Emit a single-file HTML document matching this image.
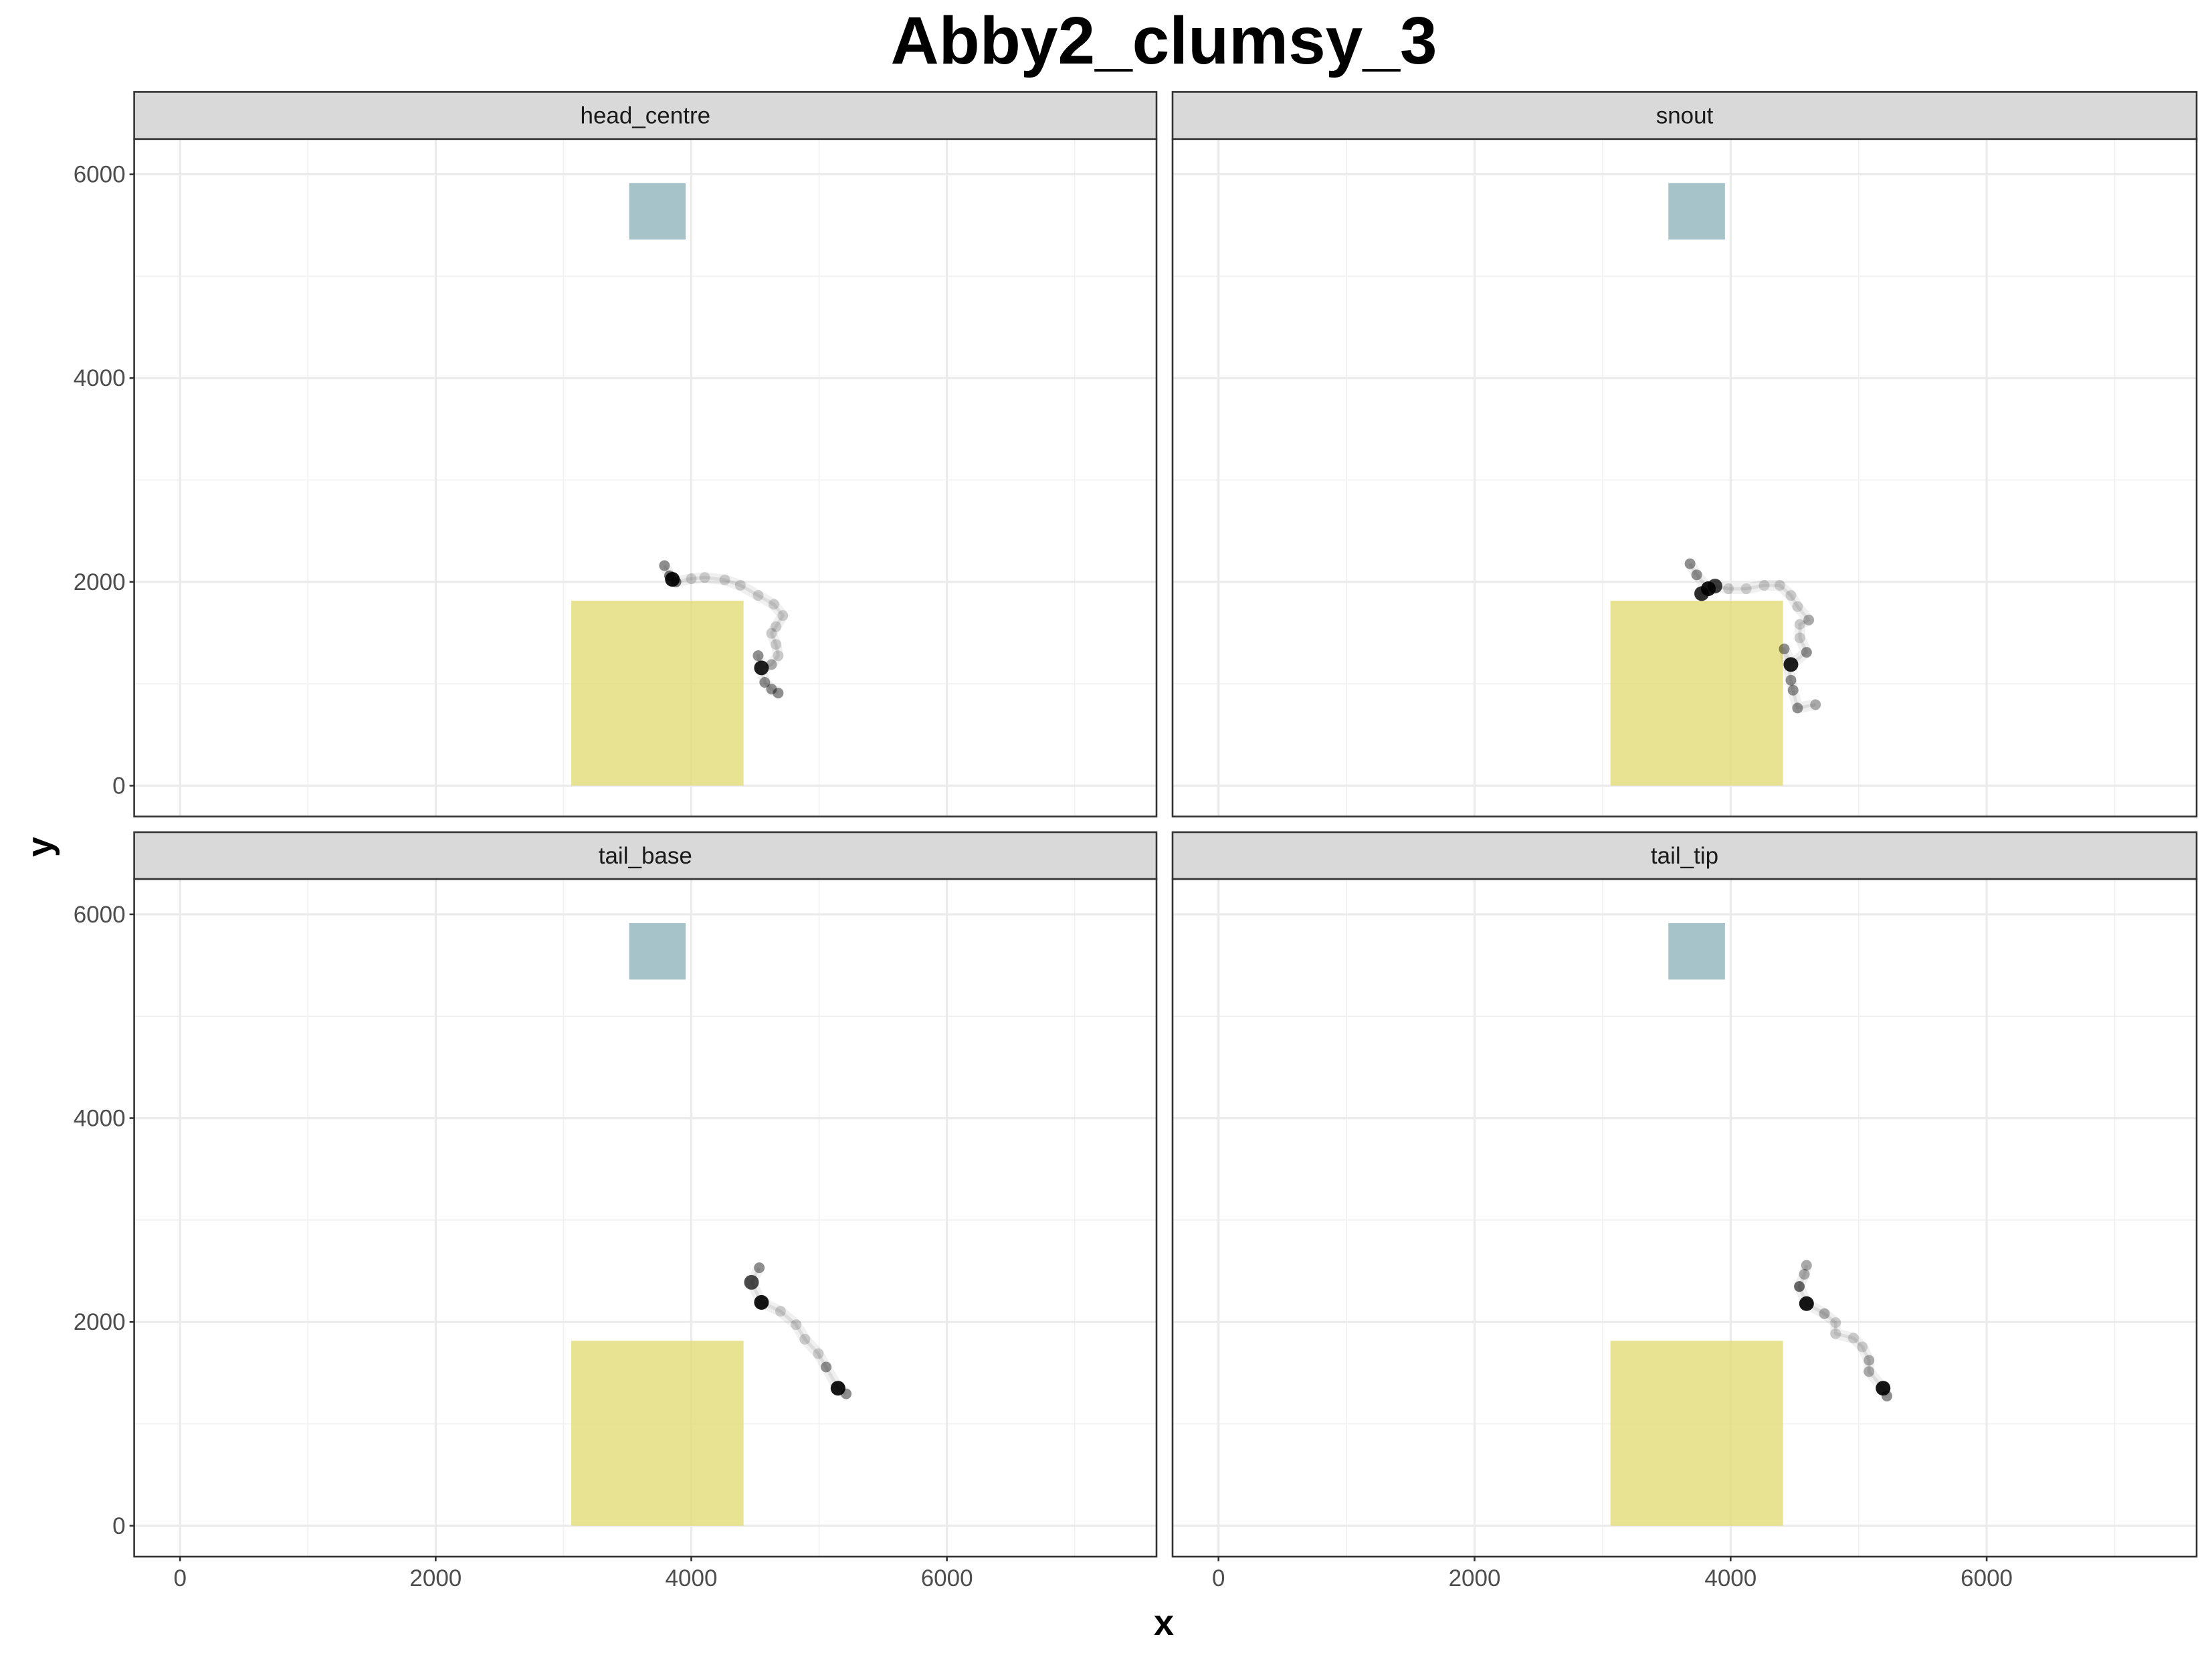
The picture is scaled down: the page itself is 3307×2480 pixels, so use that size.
<!DOCTYPE html>
<html><head><meta charset="utf-8"><style>
html,body{margin:0;padding:0;background:#fff;}
svg{display:block;font-family:"Liberation Sans",Arial,sans-serif;}
</style></head><body>
<svg id="chart" width="3307" height="2480" viewBox="0 0 3307 2480" xmlns="http://www.w3.org/2000/svg">
<rect width="3307" height="2480" fill="#fff"/>
<text x="1740" y="95" text-anchor="middle" font-size="100" font-weight="bold" fill="#000">Abby2_clumsy_3</text>
<text x="1740" y="2444" text-anchor="middle" font-size="54" font-weight="bold" fill="#000">x</text>
<text x="0" y="0" transform="translate(78,1266) rotate(-90)" text-anchor="middle" font-size="54" font-weight="bold" fill="#000">y</text>
<g id="panels"></g>
</svg>
<script>
const panelNames = ["head_centre","snout","tail_base","tail_tip"];
const xTicks = [0,2000,4000,6000];
const yTicks = [0,2000,4000,6000];
const xMinor = [1000,3000,5000,7000];
const yMinor = [1000,3000,5000];
const xDomain = [-359, 7640];
const yDomain = [-303, 6347];
// zone rectangles [x0,x1,y0,y1]
const yellowZone = [3061, 4409, 0, 1815];
const blueZone = [3514, 3956, 5360, 5914];
// trajectories
const headX = [3790,3852,3830,3880,4000,4105,4262,4384,4523,4646,4716,4663,4628,4663,4680,4628,4549,4523,4575,4628,4680];
const headY = [2160,2025,2060,2000,2031,2043,2020,1966,1867,1780,1670,1561,1495,1386,1276,1189,1156,1276,1014,948,909];
const headN = [3,14,4,4,1,1,1,1,1,1,1,1,1,1,1,2,12,3,3,3,3];
const snoutX = [3683,3735,3826,3774,3878,3983,4122,4262,4384,4471,4523,4610,4541,4541,4593,4471,4419,4471,4488,4523,4663];
const snoutY = [2178,2069,1933,1885,1959,1933,1933,1966,1966,1867,1758,1626,1583,1451,1309,1189,1342,1035,937,762,795];
const snoutN = [3,3,14,10,8,1,1,1,1,1,1,2,1,1,3,12,3,3,3,3,2];
const baseX = [4532,4471,4549,4698,4820,4889,4994,5055,5148,5212];
const baseY = [2532,2389,2192,2105,1974,1831,1689,1558,1350,1295];
const baseN = [3,7,14,1,1,1,1,3,14,3];
const tipX = [4593,4576,4537,4593,4733,4820,4820,4959,5029,5081,5081,5191,5221];
const tipY = [2556,2468,2348,2180,2082,1994,1885,1842,1755,1624,1514,1350,1273];
const tipN = [2,2,5,14,2,1,1,1,1,2,2,14,3];
const trajX = [headX, snoutX, baseX, tipX];
const trajY = [headY, snoutY, baseY, tipY];
const trajN = [headN, snoutN, baseN, tipN];

const NS = "http://www.w3.org/2000/svg";
const panelsG = document.getElementById("panels");
const colsX = [[200.6,1729],[1753,3284]];
const rowsY = [[137.4,207.8,1220.6],[1244,1314,2327]];
function mk(tag, attrs, parent){const e=document.createElementNS(NS,tag);for(const k in attrs)e.setAttribute(k,attrs[k]);parent.appendChild(e);return e;}

panelNames.forEach((name, i) => {
  const c = i % 2, r = Math.floor(i / 2);
  const [L, R] = colsX[c];
  const [ST, T, B] = rowsY[r];
  const sx = v => L + (v - xDomain[0]) / (xDomain[1] - xDomain[0]) * (R - L);
  const sy = v => B - (v - yDomain[0]) / (yDomain[1] - yDomain[0]) * (B - T);
  const g = mk("g", {}, panelsG);
  
  
  mk("rect", {x:L,y:T,width:R-L,height:B-T,fill:"#fff"}, g);
  xMinor.forEach(v => { if (sx(v) < R) mk("line",{x1:sx(v),x2:sx(v),y1:T,y2:B,stroke:"#f0f0f0","stroke-width":1.6},g); });
  yMinor.forEach(v => mk("line",{x1:L,x2:R,y1:sy(v),y2:sy(v),stroke:"#f0f0f0","stroke-width":1.6},g));
  xTicks.forEach(v => mk("line",{x1:sx(v),x2:sx(v),y1:T,y2:B,stroke:"#ebebeb","stroke-width":3.2},g));
  yTicks.forEach(v => mk("line",{x1:L,x2:R,y1:sy(v),y2:sy(v),stroke:"#ebebeb","stroke-width":3.2},g));
  const yz = mk("rect",{x:sx(yellowZone[0]),y:sy(yellowZone[3]),width:sx(yellowZone[1])-sx(yellowZone[0]),height:sy(yellowZone[2])-sy(yellowZone[3]),fill:"#e2dc78","fill-opacity":0.8},g);
  
  
  const bz = mk("rect",{x:sx(blueZone[0]),y:sy(blueZone[3]),width:sx(blueZone[1])-sx(blueZone[0]),height:sy(blueZone[2])-sy(blueZone[3]),fill:"#90b4bc","fill-opacity":0.8},g);
  
  
  const xs = trajX[i], ys = trajY[i], ns = trajN[i];
  const tg = mk("g", {}, g);
  
  
  let d = "";
  xs.forEach((v, k) => { d += (k ? "L" : "M") + sx(v).toFixed(1) + "," + sy(ys[k]).toFixed(1); });
  mk("path",{d:d,fill:"none",stroke:"#000","stroke-opacity":0.06,"stroke-width":16,"stroke-linejoin":"round","stroke-linecap":"round"},tg);
  mk("path",{d:d,fill:"none",stroke:"#000","stroke-opacity":0.08,"stroke-width":5,"stroke-linejoin":"round"},tg);
  xs.forEach((v, k) => {
    const op = 1 - Math.pow(0.84, ns[k]);
    const rr = ns[k] > 6 ? 11 : 8;
    const pt = mk("circle",{cx:sx(v),cy:sy(ys[k]),r:rr,fill:"#000","fill-opacity":op},tg);
    
    
  });
  mk("rect",{x:L,y:T,width:R-L,height:B-T,fill:"none",stroke:"#333","stroke-width":2.6},g);
  const strip = mk("rect",{x:L,y:ST,width:R-L,height:T-ST,fill:"#d9d9d9",stroke:"#333","stroke-width":2.6},g);
  
  
  const st = mk("text",{x:(L+R)/2,y:(ST+T)/2+12,"text-anchor":"middle","font-size":35,fill:"#1a1a1a"},g);
  st.textContent = name;
  
  
  if (c === 0) {
    yTicks.forEach(v => {
      mk("line",{x1:L-7,x2:L,y1:sy(v),y2:sy(v),stroke:"#333","stroke-width":2.6},g);
      const t = mk("text",{x:L-13,y:sy(v)+12,"text-anchor":"end","font-size":35,fill:"#4d4d4d"},g);
      t.textContent = v;
      
      
    });
  }
  if (r === 1) {
    xTicks.forEach(v => {
      mk("line",{x1:sx(v),x2:sx(v),y1:B,y2:B+7,stroke:"#333","stroke-width":2.6},g);
      const t = mk("text",{x:sx(v),y:B+44,"text-anchor":"middle","font-size":35,fill:"#4d4d4d"},g);
      t.textContent = v;
      
      
    });
  }
});
</script>
</body></html>
